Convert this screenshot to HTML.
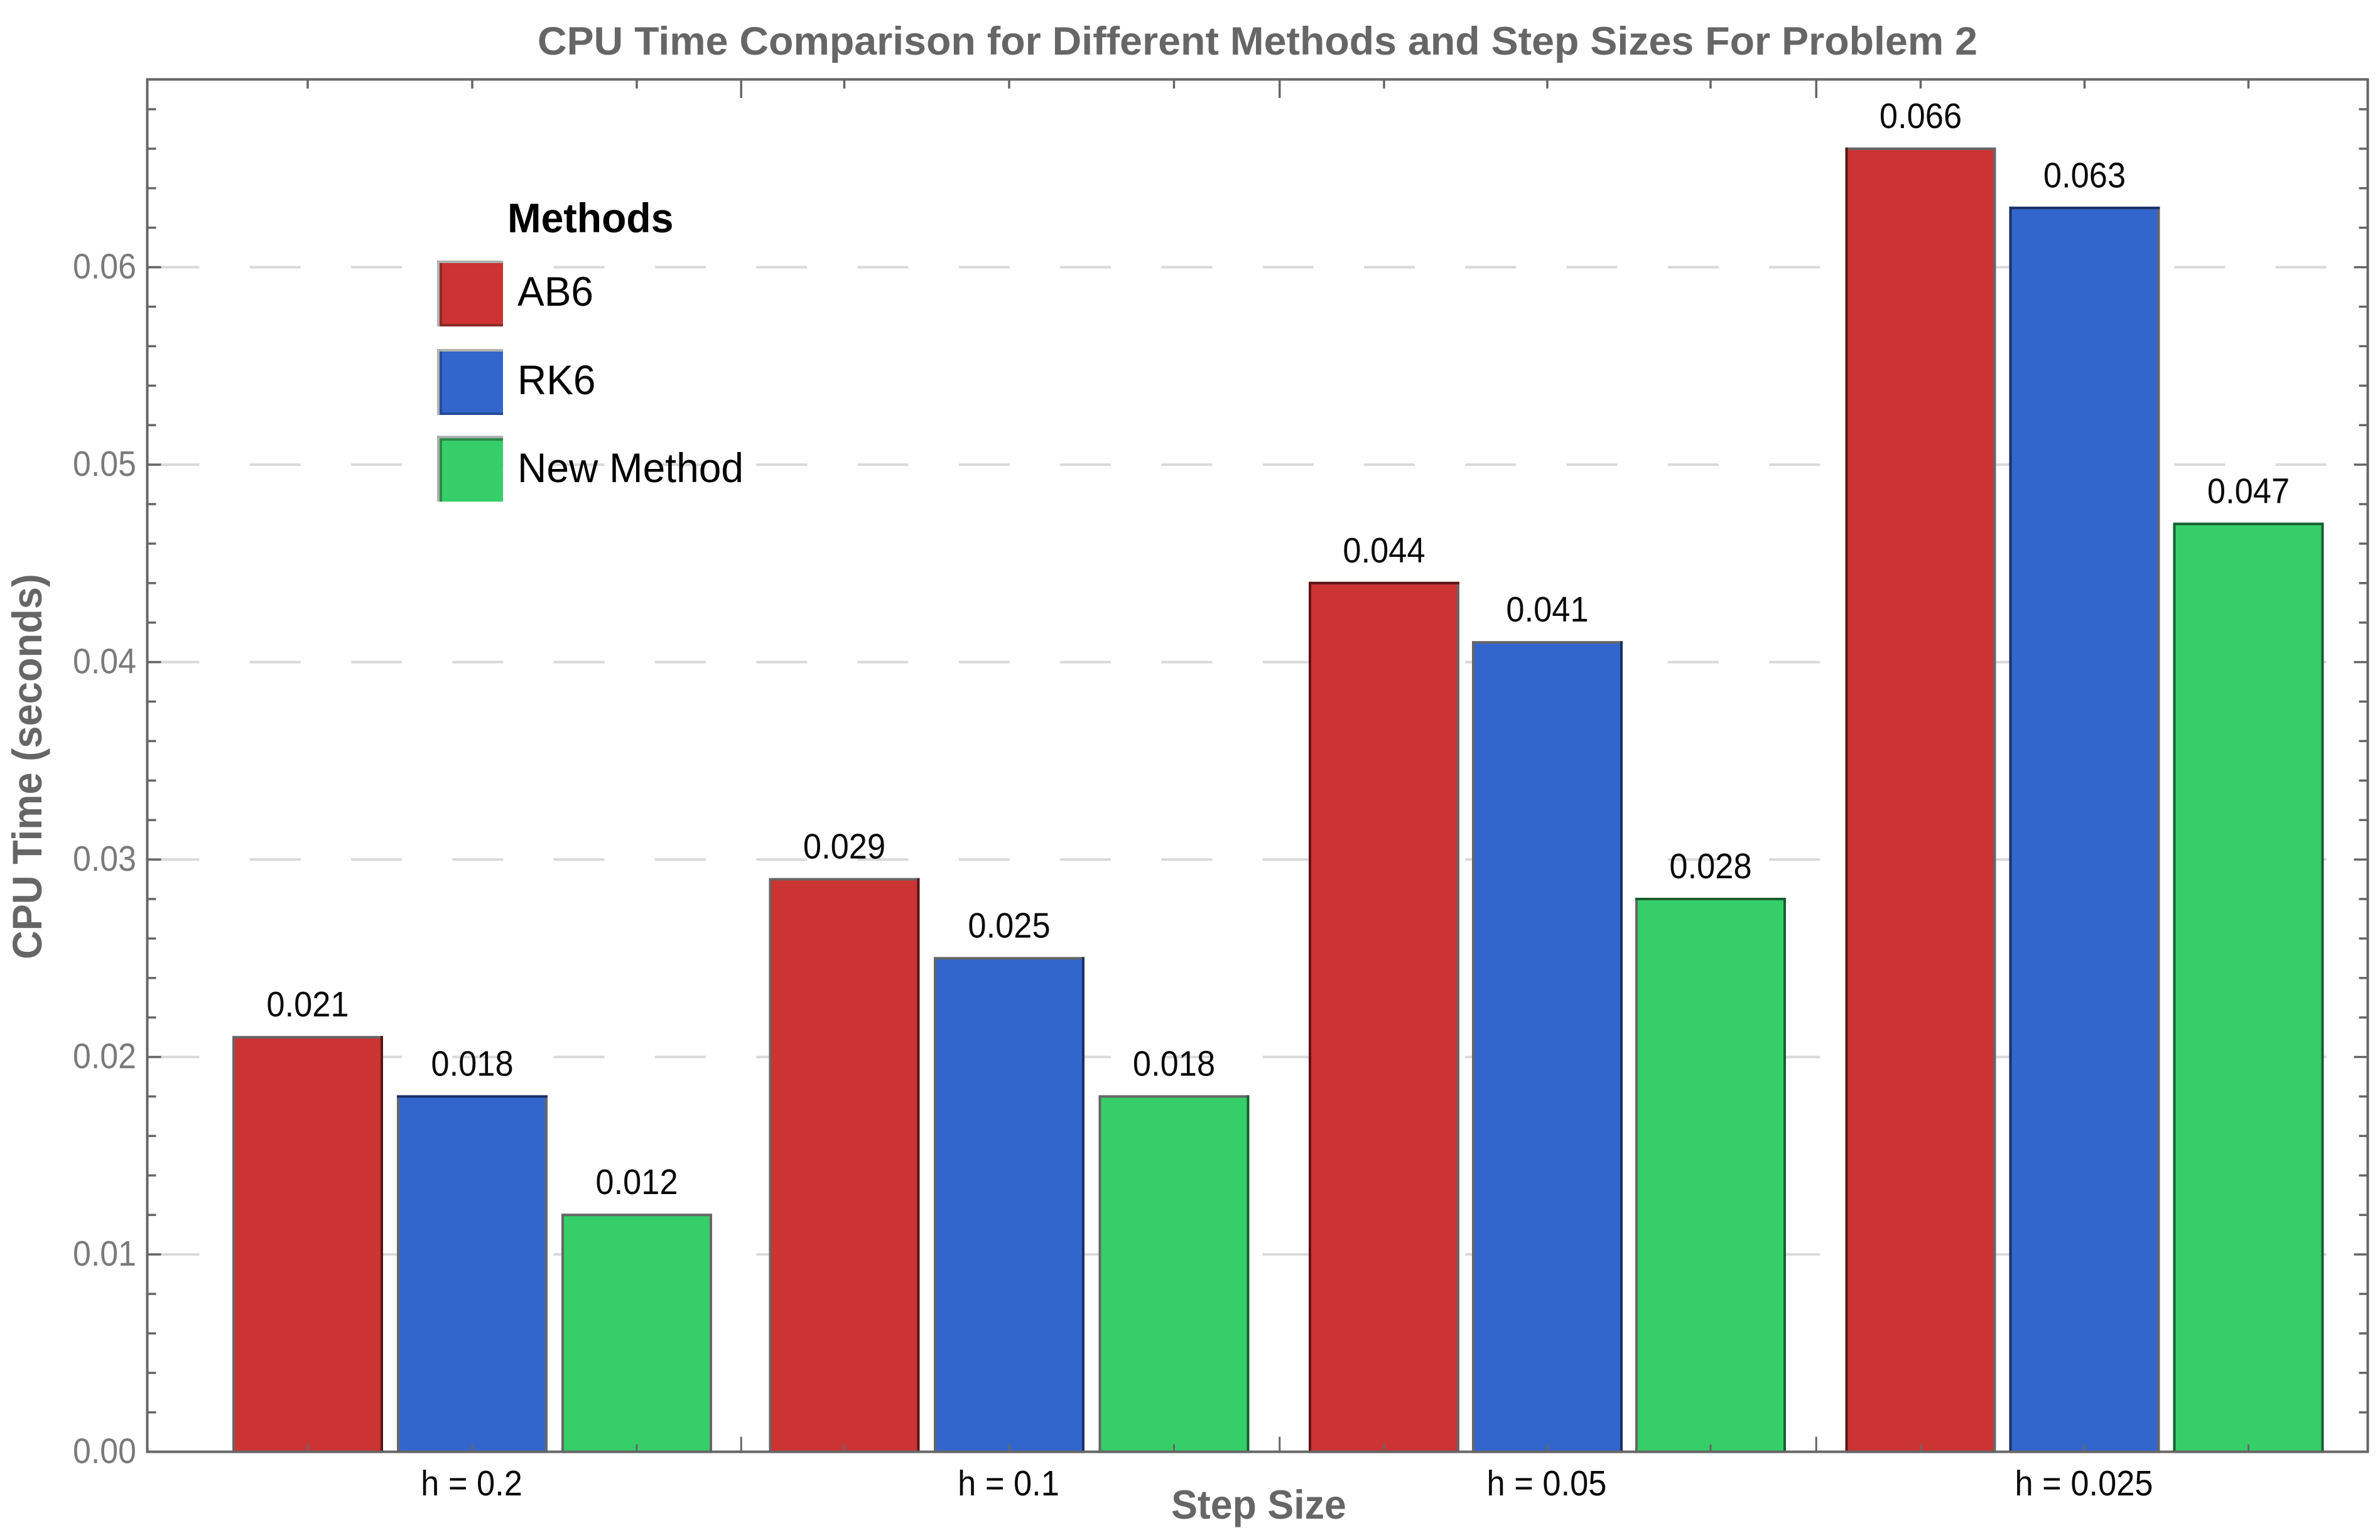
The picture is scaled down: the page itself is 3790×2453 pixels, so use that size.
<!DOCTYPE html>
<html lang="en">
<head>
<meta charset="utf-8">
<title>CPU Time Comparison</title>
<style>
html,body{margin:0;padding:0;background:#fff;width:3790px;height:2453px;overflow:hidden}
svg{display:block}
text{font-family:"Liberation Sans",sans-serif}
</style>
</head>
<body>
<svg id="chart" xmlns="http://www.w3.org/2000/svg" width="3790" height="2453" viewBox="0 0 3790 2453">
  <rect width="3790" height="2453" fill="#fff"/>
  <g id="grid"></g>
  <g id="bars"></g>
  <g id="ticks"></g>
  <rect x="234.5" y="126.5" width="3536" height="2186" fill="none" stroke="#666" stroke-width="4"/>
  <g id="ylabels"></g>
  <g id="xlabels"></g>
  <g id="values"></g>

  <text x="856" y="87" font-size="63" font-weight="700" fill="#666" textLength="2293" lengthAdjust="spacingAndGlyphs">CPU Time Comparison for Different Methods and Step Sizes For Problem 2</text>
  <text transform="translate(66,1528) rotate(-90)" font-size="66" font-weight="700" fill="#666" textLength="614" lengthAdjust="spacingAndGlyphs">CPU Time (seconds)</text>
  <text transform="translate(2004.5,2419) scale(0.965,1)" text-anchor="middle" font-size="65" font-weight="700" fill="#666">Step Size</text>

  <g>
    <text transform="translate(808,370) scale(0.975,1)" font-size="66" font-weight="700" fill="#000">Methods</text>
    <g>
      <rect x="696" y="415" width="105" height="105" fill="#b0b0b0"/>
      <rect x="700" y="419" width="101" height="101" fill="#8b2a2a"/>
      <rect x="704" y="419" width="97" height="97" fill="#cc3333"/>
      <text transform="translate(824,487) scale(0.97,1)" font-size="66" fill="#000">AB6</text>
    </g>
    <g>
      <rect x="696" y="556" width="105" height="105" fill="#b0b0b0"/>
      <rect x="700" y="560" width="101" height="101" fill="#264c99"/>
      <rect x="704" y="560" width="97" height="97" fill="#3366cc"/>
      <text transform="translate(824,628) scale(0.97,1)" font-size="66" fill="#000">RK6</text>
    </g>
    <g>
      <rect x="696" y="694" width="105" height="105" fill="#b0b0b0"/>
      <rect x="700" y="698" width="101" height="101" fill="#2a8a4c"/>
      <rect x="704" y="702" width="97" height="97" fill="#36ce68"/>
      <text transform="translate(824,768) scale(0.972,1)" font-size="66" fill="#000">New Method</text>
    </g>
  </g>
</svg>
<script>
const categories = ['h = 0.2', 'h = 0.1', 'h = 0.05', 'h = 0.025'];
const ab6Values = [0.021, 0.029, 0.044, 0.066];
const rk6Values = [0.018, 0.025, 0.041, 0.063];
const newMethodValues = [0.012, 0.018, 0.028, 0.047];
const yTickLabels = ['0.00', '0.01', '0.02', '0.03', '0.04', '0.05', '0.06'];

// Which sides of each bar render darker in the reference (l, t, r).
const ab6DarkEdges = ['r', 'r', 'lt', 'l'];
const rk6DarkEdges = ['t', 'r', 'r', 'lt'];
const newMethodDarkEdges = ['', 'r', 'tr', 'ltr'];

const NS = 'http://www.w3.org/2000/svg';
const yAxis = v => 2312.6 - v * 31450;
const groupCentre = g => [752, 1607, 2464, 3319.5][g];
const groupSpread = g => [262, 262.5, 260, 261][g];
const xAxis = (g, s) => groupCentre(g) + (s - 1) * groupSpread(g);
const BAR_W = 236;

function make(tag, attrs, parent, text) {
  const el = document.createElementNS(NS, tag);
  for (const k in attrs) el.setAttribute(k, attrs[k]);
  if (text !== undefined) el.textContent = text;
  parent.appendChild(el);
  return el;
}

const gridG = document.getElementById('grid');
const barsG = document.getElementById('bars');
const ticksG = document.getElementById('ticks');
const yLabG = document.getElementById('ylabels');
const xLabG = document.getElementById('xlabels');
const valG = document.getElementById('values');

// Gridlines and y tick labels
yTickLabels.forEach(label => {
  const v = parseFloat(label);
  const y = yAxis(v);
  if (v > 0) {
    const gl = make('line', {x1: 236.4, x2: 3768, y1: y, y2: y, stroke: '#d9d9d9', 'stroke-width': 4, 'stroke-dasharray': '81 80.3'}, gridG);
    
    
  }
  const t = make('text', {transform: `translate(217,${y + 18}) scale(0.91,1)`, 'text-anchor': 'end', 'font-size': 57, fill: '#7a7a7a'}, yLabG, label);
  
  
});

// Bars and value labels
const seriesList = [
  {key: 'ab6', values: ab6Values, dark: ab6DarkEdges, fill: '#cc3333', edge: '#5a1414'},
  {key: 'rk6', values: rk6Values, dark: rk6DarkEdges, fill: '#3366cc', edge: '#1a2f66'},
  {key: 'new-method', values: newMethodValues, dark: newMethodDarkEdges, fill: '#36ce68', edge: '#145f30'}
];
seriesList.forEach((series, s) => {
  series.values.forEach((val, g) => {
    const cx = xAxis(g, s);
    const top = yAxis(val);
    const base = yAxis(0);
    const left = cx - BAR_W / 2;
    const right = cx + BAR_W / 2;
    const bar = make('rect', {x: left, y: top, width: BAR_W, height: base - top, fill: series.fill, stroke: '#666', 'stroke-width': 4}, barsG);
    
    
    const marks = series.dark[g];
    if (marks.includes('l')) {
      const e = make('line', {x1: left, x2: left, y1: top - 2, y2: base, stroke: series.edge, 'stroke-width': 4}, barsG);
      
      
    }
    if (marks.includes('r')) {
      const e = make('line', {x1: right, x2: right, y1: top - 2, y2: base, stroke: series.edge, 'stroke-width': 4}, barsG);
      
      
    }
    if (marks.includes('t')) {
      const e = make('line', {x1: left - 2, x2: right + 2, y1: top, y2: top, stroke: series.edge, 'stroke-width': 4}, barsG);
      
      
    }
    const lab = make('text', {transform: `translate(${cx},${top - 33}) scale(0.92,1)`, 'text-anchor': 'middle', 'font-size': 57, fill: '#0a0a0a'}, valG, val.toFixed(3));
    
    
  });
});

// Y ticks on both sides: every 0.002, major every 0.01
for (let i = 0; i <= 34; i++) {
  const y = yAxis(i * 0.002);
  const len = i % 5 === 0 ? 22 : 14;
  const l = make('line', {x1: 234.5, x2: 234.5 + len, y1: y, y2: y, stroke: '#666', 'stroke-width': 3.5}, ticksG);
  
  
  const r = make('line', {x1: 3770.5, x2: 3770.5 - len, y1: y, y2: y, stroke: '#666', 'stroke-width': 3.5}, ticksG);
  
  
}

// X ticks: minor at each bar centre, major between groups
categories.forEach((cat, g) => {
  [0, 1, 2].forEach(s => {
    const x = xAxis(g, s);
    const b = make('line', {x1: x, x2: x, y1: 2312.6, y2: 2300.6, stroke: '#666', 'stroke-width': 3}, ticksG);
    
    
    const t = make('line', {x1: x, x2: x, y1: 126.5, y2: 141, stroke: '#666', 'stroke-width': 3.5}, ticksG);
    
    
  });
  if (g < categories.length - 1) {
    const x = (xAxis(g, 2) + xAxis(g + 1, 0)) / 2 + 1;
    const b = make('line', {x1: x, x2: x, y1: 2312.6, y2: 2288.6, stroke: '#666', 'stroke-width': 3}, ticksG);
    
    
    const t = make('line', {x1: x, x2: x, y1: 126.5, y2: 156, stroke: '#666', 'stroke-width': 3.5}, ticksG);
    
    
  }
  const lab = make('text', {transform: `translate(${groupCentre(g) - 1},2382) scale(0.92,1)`, 'text-anchor': 'middle', 'font-size': 57, fill: '#0a0a0a'}, xLabG, cat);
  
  
});
</script>
</body>
</html>
